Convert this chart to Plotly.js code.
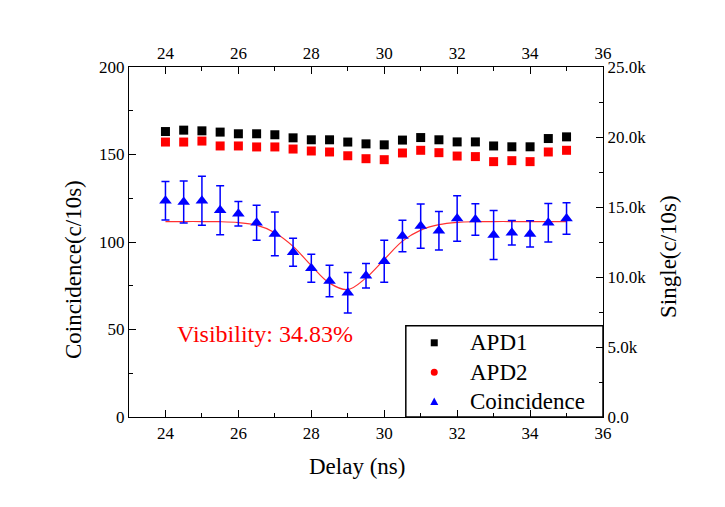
<!DOCTYPE html>
<html>
<head>
<meta charset="utf-8">
<script src="https://cdn.plot.ly/plotly-3.0.1.min.js"></script>
<style>
#chart text { font-family: "Liberation Serif", "Times New Roman", serif !important; }
</style>
</head>
<body style="margin:0">
<div id="chart" style="width:725px;height:507px"></div>
<script>
// Data
const delay = [24,24.5,25,25.5,26,26.5,27,27.5,28,28.5,29,29.5,30,30.5,31,31.5,32,32.5,33,33.5,34,34.5,35];
const apd1 = [20390,20490,20440,20350,20230,20230,20160,19940,19800,19800,19640,19510,19440,19780,19960,19800,19650,19650,19360,19300,19300,19890,20010];
const apd2 = [19640,19640,19710,19360,19360,19290,19290,19140,19000,18930,18660,18450,18380,18860,19050,18880,18640,18600,18240,18310,18240,18930,19050];
const coinc = [123.6,122.9,123.6,118.1,116.2,111.0,104.6,94.1,85.0,77.7,71.0,80.7,89.0,103.4,109.1,106.5,113.5,112.9,104.0,105.3,104.6,111.0,113.5];
const coincErr = [11,12,14,14,7,10,12.5,8,8,9,11.6,7,12,9,12.6,11,13,9,14,7,7.5,11,9];
const fitX = [24,24.5,25,25.5,26,26.5,27,27.5,28,28.5,29,29.5,30,30.5,31,31.5,32,32.5,33,33.5,34,34.5,35];
const fitY = [111.7,111.7,111.7,111.6,111.1,109.6,105.3,97.5,86.5,76.5,72.8,79.5,90.0,100.5,106.8,109.9,111.2,111.6,111.7,111.7,111.7,111.7,111.7];
const xTicks = [24,26,28,30,32,34,36];
const leftTicks = [0,50,100,150,200];
const rightTickVals = [0,5000,10000,15000,20000,25000];
const rightTickText = ["0.0","5.0k","10.0k","15.0k","20.0k","25.0k"];
const seriesNames = ["APD1","APD2","Coincidence"];
const seriesColors = ["#000000","#ff0000","#0000ff"];
const visibilityText = "Visibility: 34.83%";

const F = "Liberation Serif";

const traces = [
  {x: fitX, y: fitY, type:'scatter', mode:'lines', line:{color:'#ff3030', width:1.2, shape:'spline'}, xaxis:'x', yaxis:'y', showlegend:false},
  {x: delay, y: apd1, type:'scatter', mode:'markers', name:seriesNames[0], marker:{symbol:'square', size:9, color:seriesColors[0]}, xaxis:'x2', yaxis:'y2', showlegend:false},
  {x: delay, y: apd2, type:'scatter', mode:'markers', name:seriesNames[1], marker:{symbol:'square', size:9, color:seriesColors[1]}, xaxis:'x2', yaxis:'y2', showlegend:false},
  {x: delay, y: coinc, type:'scatter', mode:'markers', name:seriesNames[2], marker:{symbol:'triangle-up', size:11, color:seriesColors[2]},
   error_y:{type:'data', array: coincErr, visible:true, color:seriesColors[2], thickness:1.5, width:4}, xaxis:'x', yaxis:'y', showlegend:false}
];

function minorTicks(d){ return {dtick:d, ticks:'inside', ticklen:4, tickcolor:'#000', tickwidth:1.2, showgrid:false}; }
function axis(extra){
  return Object.assign({
    showgrid:false, zeroline:false, showline:true, linecolor:'#000', linewidth:1.3,
    ticks:'inside', ticklen:7, tickwidth:1.2, tickcolor:'#000',
    tickfont:{family:F, size:17, color:'#000'}
  }, extra);
}

// legend drawn as a boxed block in paper space
const legX0 = 0.584, legY1 = 0.261;
const legMarkX = 0.644, legTextX = 0.715;
const legRowY = [0.212, 0.128, 0.044];
const shapes = [
  {type:'rect', xref:'paper', yref:'paper', x0:legX0, x1:1, y0:0, y1:legY1, line:{color:'#000', width:1.5}, fillcolor:'#fff', layer:'below'},
  {type:'rect', xref:'paper', yref:'paper', xsizemode:'pixel', ysizemode:'pixel', xanchor:legMarkX, yanchor:legRowY[0], x0:-3.5, x1:3.5, y0:-3.5, y1:3.5, line:{width:0}, fillcolor:seriesColors[0]},
  {type:'circle', xref:'paper', yref:'paper', xsizemode:'pixel', ysizemode:'pixel', xanchor:legMarkX, yanchor:legRowY[1], x0:-3.5, x1:3.5, y0:-3.5, y1:3.5, line:{width:0}, fillcolor:seriesColors[1]},
  {type:'path', xref:'paper', yref:'paper', xsizemode:'pixel', ysizemode:'pixel', xanchor:legMarkX, yanchor:legRowY[2], path:'M -4 -3.5 L 4 -3.5 L 0 4 Z', line:{width:0}, fillcolor:seriesColors[2]}
];

const annotations = [
  {text:visibilityText, xref:'x', yref:'y', x:26.72, y:47.4, showarrow:false, xanchor:'center', yanchor:'middle', font:{family:F, size:24, color:'#ff0000'}},
  {text:'Coincidence(c/10s)', xref:'paper', yref:'paper', x:-0.118, y:0.42, textangle:-90, showarrow:false, xanchor:'center', yanchor:'middle', font:{family:F, size:23, color:'#000'}},
  {text:'Single(c/10s)', xref:'paper', yref:'paper', x:1.137, y:0.46, textangle:-90, showarrow:false, xanchor:'center', yanchor:'middle', font:{family:F, size:23, color:'#000'}},
  {text:'Delay (ns)', xref:'paper', yref:'paper', x:0.481, y:-0.142, showarrow:false, xanchor:'center', yanchor:'middle', font:{family:F, size:23, color:'#000'}}
];
seriesNames.forEach((n,i)=>annotations.push({text:n, xref:'paper', yref:'paper', x:legTextX, y:legRowY[i], showarrow:false, xanchor:'left', yanchor:'middle', font:{family:F, size:23, color:'#000'}}));

const layout = {
  width:725, height:507,
  margin:{l:129, r:122, t:67, b:90},
  paper_bgcolor:'#fff', plot_bgcolor:'#fff',
  font:{family:F, color:'#000'},
  showlegend:false,
  xaxis: axis({range:[23,36], tickvals:xTicks, mirror:true, minor:minorTicks(1)}),
  xaxis2: axis({range:[23,36], tickvals:xTicks, overlaying:'x', side:'top', anchor:'y', minor:minorTicks(1)}),
  yaxis: axis({range:[0,200], tickvals:leftTicks, mirror:true, minor:minorTicks(25)}),
  yaxis2: axis({range:[0,25000], tickvals:rightTickVals, ticktext:rightTickText, overlaying:'y', side:'right', anchor:'x', minor:minorTicks(2500)}),
  shapes: shapes,
  annotations: annotations
};

Plotly.newPlot('chart', traces, layout, {displayModeBar:false});
</script>
</body>
</html>
